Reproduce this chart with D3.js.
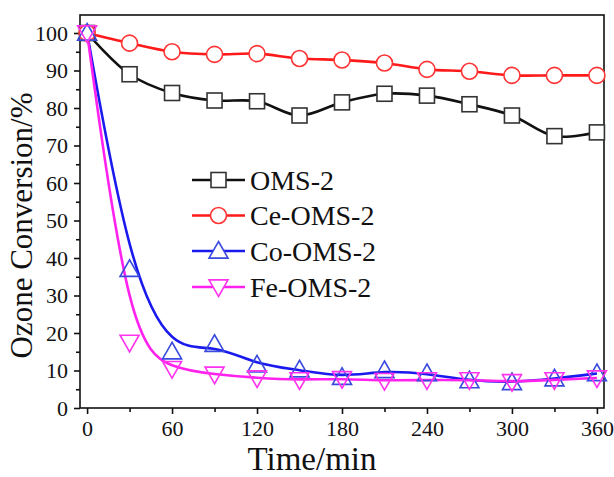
<!DOCTYPE html>
<html>
<head>
<meta charset="utf-8">
<script src="https://cdn.jsdelivr.net/npm/d3@7"></script>
<style>
  html, body { margin: 0; padding: 0; background: #fff; }
  svg { display: block; }
  svg text { font-family: "Liberation Serif", "Times New Roman", Tinos, "DejaVu Serif", serif !important; fill: #111; }
</style>
</head>
<body>
<svg id="chart" width="614" height="477"></svg>
<script>
// ---- data ----
const times = [0, 30, 60, 90, 120, 150, 180, 210, 240, 270, 300, 330, 360];
const omsValues   = [100, 89, 84, 82, 81.8, 78, 81.5, 83.8, 83.3, 81, 78, 72.5, 73.5];
const ceOmsValues = [100, 97.3, 95, 94.3, 94.5, 93.2, 92.8, 92, 90.3, 89.8, 88.7, 88.7, 88.7];
const coOmsValues = [100, 37, 15, 17, 11.5, 10.2, 8.2, 10, 9.2, 7.3, 6.8, 7.8, 9.2];
const feOmsValues = [100, 17.5, 10.5, 9, 8, 7.5, 7.8, 7.3, 7.5, 7.5, 7, 7.5, 8];
const seriesNames = ["OMS-2", "Ce-OMS-2", "Co-OMS-2", "Fe-OMS-2"];
const xTickValues = [0, 60, 120, 180, 240, 300, 360];
const yTickValues = [0, 10, 20, 30, 40, 50, 60, 70, 80, 90, 100];
const xTitle = "Time/min";
const yTitle = "Ozone Conversion/%";

// ---- layout ----
const FONT = "'Liberation Serif', 'Times New Roman', Tinos, serif";
const svg = d3.select("#chart");
const L = 80, R = 604, T = 15, B = 408;
const x = d3.scaleLinear().domain([-5, 365]).range([L, R]);
const y = d3.scaleLinear().domain([0, 104.8]).range([B, T]);

const series = [
  { name: seriesNames[0], values: omsValues,   color: "#111111", marker: "square",  curve: d3.curveCatmullRom.alpha(0.5), fill: "#fff" },
  { name: seriesNames[1], values: ceOmsValues, color: "#ff1a1a", marker: "circle",  curve: d3.curveCatmullRom.alpha(0.5), fill: "#fff" },
  { name: seriesNames[2], values: coOmsValues, color: "#1a1aee", marker: "triUp",   curve: d3.curveBasis, fill: "none" },
  { name: seriesNames[3], values: feOmsValues, color: "#ff22ee", marker: "triDown", curve: d3.curveBasis, fill: "none" }
];

const markerColor = { square: "#333", circle: "#ff3333", triUp: "#3a4adf", triDown: "#ff33ee" };

function drawMarker(g, type, cx, cy, color, fill) {
  if (type === "square") {
    g.append("rect").attr("x", cx - 7.5).attr("y", cy - 7.5).attr("width", 15).attr("height", 15)
      .attr("fill", fill).attr("stroke", color).attr("stroke-width", 1.6);
  } else if (type === "circle") {
    g.append("circle").attr("cx", cx).attr("cy", cy).attr("r", 8)
      .attr("fill", fill).attr("stroke", color).attr("stroke-width", 1.6);
  } else if (type === "triUp") {
    const s = 9.5;
    g.append("path").attr("d", `M${cx},${cy - s}L${cx + s},${cy + s * 0.75}L${cx - s},${cy + s * 0.75}Z`)
      .attr("fill", fill).attr("stroke", color).attr("stroke-width", 1.6);
  } else {
    const s = 9.5;
    g.append("path").attr("d", `M${cx},${cy + s}L${cx + s},${cy - s * 0.75}L${cx - s},${cy - s * 0.75}Z`)
      .attr("fill", fill).attr("stroke", color).attr("stroke-width", 1.6);
  }
}

// frame
svg.append("rect").attr("x", L).attr("y", T).attr("width", R - L).attr("height", B - T)
  .attr("fill", "none").attr("stroke", "#111").attr("stroke-width", 1.6);

// axes
const xAxis = d3.axisBottom(x).tickValues(xTickValues).tickSize(6).tickPadding(6);
const xMinor = d3.axisBottom(x).tickValues(d3.range(30, 361, 60)).tickSize(4).tickFormat("");
const yAxis = d3.axisLeft(y).tickValues(yTickValues).tickSize(6).tickPadding(6);
const yMinor = d3.axisLeft(y).tickValues(d3.range(5, 101, 10)).tickSize(4).tickFormat("");

function styleAxis(g) {
  g.attr("font-family", FONT);
  g.select(".domain").remove();
  g.selectAll("line").attr("stroke", "#111").attr("stroke-width", 1.6);
  g.selectAll("text").attr("font-size", 22).attr("font-family", FONT).attr("fill", "#111");
}
svg.append("g").attr("transform", `translate(0,${B})`).call(xAxis).call(styleAxis);
svg.append("g").attr("transform", `translate(0,${B})`).call(xMinor).call(styleAxis);
svg.append("g").attr("transform", `translate(${L},0)`).call(yAxis).call(styleAxis);
svg.append("g").attr("transform", `translate(${L},0)`).call(yMinor).call(styleAxis);

// lines & markers
series.forEach(s => {
  const pts = times.map((t, i) => [t, s.values[i]]);
  const line = d3.line().x(d => x(d[0])).y(d => y(d[1])).curve(s.curve);
  svg.append("path").attr("d", line(pts)).attr("fill", "none")
    .attr("stroke", s.color).attr("stroke-width", 2.6);
});
series.forEach(s => {
  const g = svg.append("g");
  times.forEach((t, i) => drawMarker(g, s.marker, x(t), y(s.values[i]), markerColor[s.marker], s.fill));
});

// legend
const legX1 = 192, legX2 = 245, legTextX = 250;
const legRows = [180, 215.5, 251, 287];
series.forEach((s, i) => {
  const g = svg.append("g");
  const cy = legRows[i];
  g.append("line").attr("x1", legX1).attr("x2", legX2).attr("y1", cy).attr("y2", cy)
    .attr("stroke", s.color).attr("stroke-width", 2.6);
  drawMarker(g, s.marker, (legX1 + legX2) / 2, cy, markerColor[s.marker], "#fff");
  g.append("text").attr("x", legTextX).attr("y", cy).attr("dy", "0.35em")
    .attr("font-family", FONT).attr("font-size", 28).text(s.name);
});

// titles
svg.append("text").attr("x", (L + R) / 2 - 30).attr("y", 470).attr("text-anchor", "middle")
  .attr("font-family", FONT).attr("font-size", 33).text(xTitle);
svg.append("text").attr("transform", `translate(32,${(T + B) / 2 + 14}) rotate(-90)`)
  .attr("text-anchor", "middle").attr("font-family", FONT).attr("font-size", 31).text(yTitle);
</script>
</body>
</html>
